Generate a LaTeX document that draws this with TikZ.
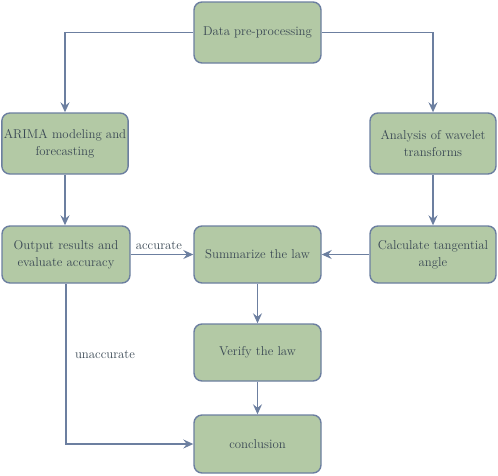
\documentclass[tikz,border=0pt]{standalone}
\usetikzlibrary{arrows.meta,positioning}
\definecolor{boxfill}{RGB}{179,201,165}
\definecolor{boxline}{RGB}{108,127,160}
\definecolor{boxtext}{RGB}{58,72,84}
\tikzset{
  procbox/.style={draw=boxline,fill=boxfill,line width=1.4pt,rounded corners=8pt,
    minimum width=127pt,minimum height=58pt,align=center,inner sep=2pt,
    text=boxtext,font=\fontsize{12.8}{17}\selectfont},
  flow/.style={draw=boxline,line width=1.4pt,-{Stealth[length=10pt,width=9pt,inset=3.5pt]}},
  flowlabel/.style={text=boxtext,font=\fontsize{12.8}{15}\selectfont}
}
\begin{document}
\begin{tikzpicture}[x=1pt,y=-1pt]
\useasboundingbox (0,0) rectangle (498,475);
% Top
\node[procbox,minimum height=61pt] (data) at (257.5,32.5) {Data pre-processing};

% Left branch
\node[procbox,minimum width=126pt,minimum height=61pt] (arima) at (65,143.5) {ARIMA modeling and\\forecasting};
\node[procbox,minimum width=128pt,minimum height=57pt] (output) at (66,254.5) {Output results and\\evaluate accuracy};

% Right branch
\node[procbox,minimum width=126pt,minimum height=61pt] (wavelet) at (433,143.5) {Analysis of wavelet\\transforms};
\node[procbox,minimum width=126pt,minimum height=57pt] (calc) at (433,254.5) {Calculate tangential\\angle};

% Middle column
\node[procbox,minimum height=57pt] (summ) at (257.5,254.5) {Summarize the law};
\node[procbox,minimum height=57pt] (verify) at (257.5,352.5) {Verify the law};
\node[procbox] (concl) at (257.5,444) {conclusion};

% Connectors
\draw[flow] (data.west) -| (arima.north);
\draw[flow] (data.east) -| (wavelet.north);
\draw[flow] (arima.south) -- (arima.south |- output.north);
\draw[flow] (wavelet.south) -- (calc.north);
\draw[flow] (output.east) -- (summ.west) node[flowlabel,pos=0.45,above=1pt] {accurate};
\draw[flow] (calc.west) -- (summ.east);
\draw[flow] (summ.south) -- (verify.north);
\draw[flow] (verify.south) -- (concl.north);
\draw[flow] (output.south) |- (concl.west) node[flowlabel,pos=0.22,right=5pt] {unaccurate};
\end{tikzpicture}
\end{document}
